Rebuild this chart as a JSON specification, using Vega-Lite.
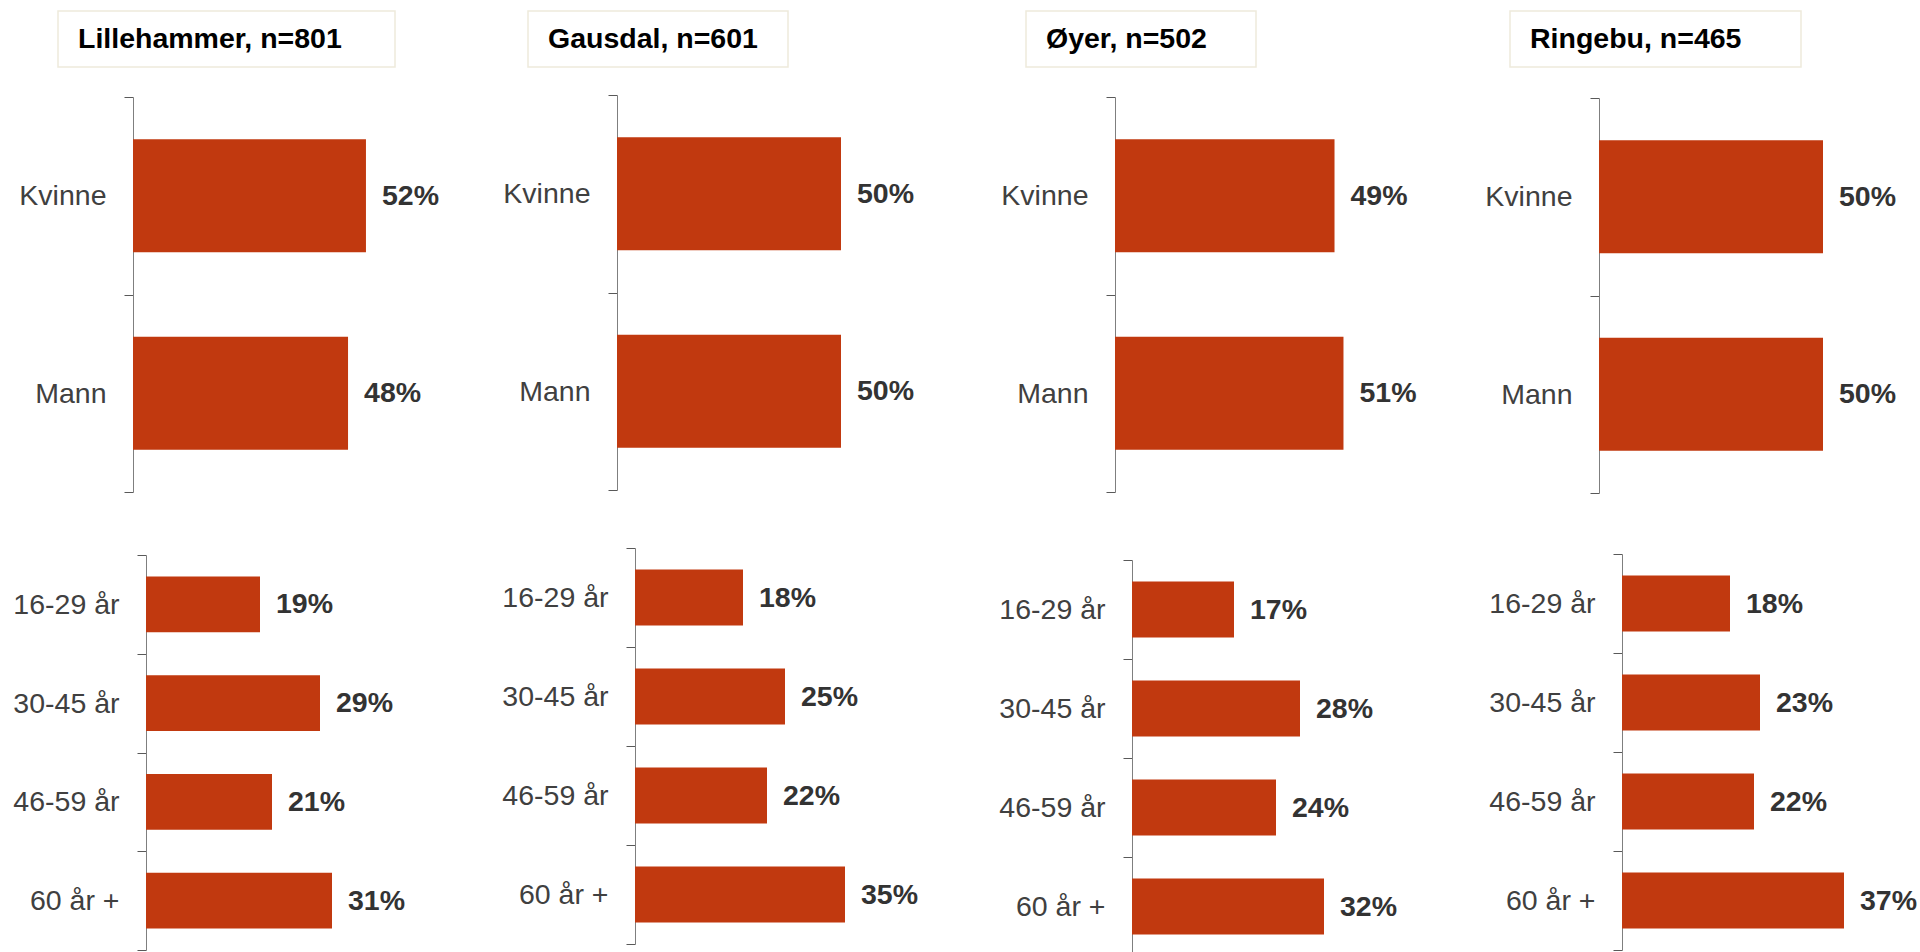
{
  "$schema": "https://vega.github.io/schema/vega-lite/v6.json",
  "padding": {"left": 12, "top": 10, "right": 0, "bottom": 0},
  "background": "white",
  "config": {
    "view": {"stroke": null},
    "font": "Liberation Sans",
    "axis": {
      "domainColor": "#7f7f7f",
      "tickColor": "#595959",
      "tickSize": 9,
      "labelPadding": 18,
      "labelFontSize": 28.5,
      "labelColor": "#404040",
      "labelFont": "Liberation Sans",
      "title": null,
      "grid": false,
      "tickBand": "extent",
      "labelLimit": 300
    },
    "bar": {"color": "#c1390f"},
    "text": {"font": "Liberation Sans"},
    "concat": {"spacing": 20}
  },
  "datasets": {
    "andeler": [
      {"kommune": "Lillehammer", "gruppe": "kjonn", "kategori": "Kvinne", "andel": 0.52},
      {"kommune": "Lillehammer", "gruppe": "kjonn", "kategori": "Mann", "andel": 0.48},
      {"kommune": "Lillehammer", "gruppe": "alder", "kategori": "16-29 år", "andel": 0.19},
      {"kommune": "Lillehammer", "gruppe": "alder", "kategori": "30-45 år", "andel": 0.29},
      {"kommune": "Lillehammer", "gruppe": "alder", "kategori": "46-59 år", "andel": 0.21},
      {"kommune": "Lillehammer", "gruppe": "alder", "kategori": "60 år +", "andel": 0.31},
      {"kommune": "Gausdal", "gruppe": "kjonn", "kategori": "Kvinne", "andel": 0.50},
      {"kommune": "Gausdal", "gruppe": "kjonn", "kategori": "Mann", "andel": 0.50},
      {"kommune": "Gausdal", "gruppe": "alder", "kategori": "16-29 år", "andel": 0.18},
      {"kommune": "Gausdal", "gruppe": "alder", "kategori": "30-45 år", "andel": 0.25},
      {"kommune": "Gausdal", "gruppe": "alder", "kategori": "46-59 år", "andel": 0.22},
      {"kommune": "Gausdal", "gruppe": "alder", "kategori": "60 år +", "andel": 0.35},
      {"kommune": "Øyer", "gruppe": "kjonn", "kategori": "Kvinne", "andel": 0.49},
      {"kommune": "Øyer", "gruppe": "kjonn", "kategori": "Mann", "andel": 0.51},
      {"kommune": "Øyer", "gruppe": "alder", "kategori": "16-29 år", "andel": 0.17},
      {"kommune": "Øyer", "gruppe": "alder", "kategori": "30-45 år", "andel": 0.28},
      {"kommune": "Øyer", "gruppe": "alder", "kategori": "46-59 år", "andel": 0.24},
      {"kommune": "Øyer", "gruppe": "alder", "kategori": "60 år +", "andel": 0.32},
      {"kommune": "Ringebu", "gruppe": "kjonn", "kategori": "Kvinne", "andel": 0.50},
      {"kommune": "Ringebu", "gruppe": "kjonn", "kategori": "Mann", "andel": 0.50},
      {"kommune": "Ringebu", "gruppe": "alder", "kategori": "16-29 år", "andel": 0.18},
      {"kommune": "Ringebu", "gruppe": "alder", "kategori": "30-45 år", "andel": 0.23},
      {"kommune": "Ringebu", "gruppe": "alder", "kategori": "46-59 år", "andel": 0.22},
      {"kommune": "Ringebu", "gruppe": "alder", "kategori": "60 år +", "andel": 0.37}
    ],
    "titler": [
      {"kommune": "Lillehammer", "tittel": "Lillehammer, n=801"},
      {"kommune": "Gausdal", "tittel": "Gausdal, n=601"},
      {"kommune": "Øyer", "tittel": "Øyer, n=502"},
      {"kommune": "Ringebu", "tittel": "Ringebu, n=465"}
    ]
  },
  "hconcat": [
    {
      "spacing": 15,
      "vconcat": [
        {
          "width": 337, "height": 56,
          "view": {"stroke": "#eeeadb", "strokeWidth": 1.5},
          "data": {"name": "titler"},
          "transform": [{"filter": "datum.kommune === 'Lillehammer'"}],
          "mark": {"type": "text", "align": "left", "baseline": "middle", "dx": 20, "fontSize": 28.5, "fontWeight": "bold", "color": "#000000"},
          "encoding": {
            "text": {"field": "tittel"},
            "x": {"datum": 0, "type": "quantitative", "scale": {"domain": [0, 1]}, "axis": null}
          }
        },
        {
          "spacing": 48,
          "vconcat": [
            {
              "width": 423, "height": 395,
              "data": {"name": "andeler"},
              "transform": [{"filter": "datum.kommune === 'Lillehammer' && datum.gruppe === 'kjonn'"}],
              "encoding": {
                "y": {"field": "kategori", "type": "nominal", "sort": null, "scale": {"paddingInner": 0, "paddingOuter": 0}, "axis": {"offset": -75}},
                "x": {"field": "andel", "type": "quantitative", "scale": {"domain": [-0.16741, 0.77679], "nice": false, "zero": false}, "axis": null}
              },
              "layer": [
                {"mark": {"type": "bar", "height": {"band": 0.572}}},
                {"mark": {"type": "text", "align": "left", "baseline": "middle", "dx": 16, "fontSize": 28.5, "fontWeight": "bold", "color": "#333333"}, "encoding": {"text": {"field": "andel", "type": "quantitative", "format": ".0%"}}}
              ]
            },
            {
              "width": 423, "height": 395,
              "data": {"name": "andeler"},
              "transform": [{"filter": "datum.kommune === 'Lillehammer' && datum.gruppe === 'alder'"}],
              "encoding": {
                "y": {"field": "kategori", "type": "nominal", "sort": null, "scale": {"paddingInner": 0, "paddingOuter": 0}, "axis": {"offset": -88}},
                "x": {"field": "andel", "type": "quantitative", "scale": {"domain": [-0.14667, 0.55833], "nice": false, "zero": false}, "axis": null}
              },
              "layer": [
                {"mark": {"type": "bar", "height": {"band": 0.567}}},
                {"mark": {"type": "text", "align": "left", "baseline": "middle", "dx": 16, "fontSize": 28.5, "fontWeight": "bold", "color": "#333333"}, "encoding": {"text": {"field": "andel", "type": "quantitative", "format": ".0%"}}}
              ]
            }
          ]
        }
      ]
    },
    {
      "spacing": 13,
      "vconcat": [
        {
          "width": 260, "height": 56,
          "view": {"stroke": "#eeeadb", "strokeWidth": 1.5},
          "data": {"name": "titler"},
          "transform": [{"filter": "datum.kommune === 'Gausdal'"}],
          "mark": {"type": "text", "align": "left", "baseline": "middle", "dx": 20, "fontSize": 28.5, "fontWeight": "bold", "color": "#000000"},
          "encoding": {
            "text": {"field": "tittel"},
            "x": {"datum": 0, "type": "quantitative", "scale": {"domain": [0, 1]}, "axis": null}
          }
        },
        {
          "spacing": 43,
          "vconcat": [
            {
              "width": 450, "height": 395,
              "data": {"name": "andeler"},
              "transform": [{"filter": "datum.kommune === 'Gausdal' && datum.gruppe === 'kjonn'"}],
              "encoding": {
                "y": {"field": "kategori", "type": "nominal", "sort": null, "scale": {"paddingInner": 0, "paddingOuter": 0}, "axis": {"offset": -89}},
                "x": {"field": "andel", "type": "quantitative", "scale": {"domain": [-0.19866, 0.80580], "nice": false, "zero": false}, "axis": null}
              },
              "layer": [
                {"mark": {"type": "bar", "height": {"band": 0.572}}},
                {"mark": {"type": "text", "align": "left", "baseline": "middle", "dx": 16, "fontSize": 28.5, "fontWeight": "bold", "color": "#333333"}, "encoding": {"text": {"field": "andel", "type": "quantitative", "format": ".0%"}}}
              ]
            },
            {
              "width": 450, "height": 396,
              "data": {"name": "andeler"},
              "transform": [{"filter": "datum.kommune === 'Gausdal' && datum.gruppe === 'alder'"}],
              "encoding": {
                "y": {"field": "kategori", "type": "nominal", "sort": null, "scale": {"paddingInner": 0, "paddingOuter": 0}, "axis": {"offset": -107}},
                "x": {"field": "andel", "type": "quantitative", "scale": {"domain": [-0.17833, 0.57167], "nice": false, "zero": false}, "axis": null}
              },
              "layer": [
                {"mark": {"type": "bar", "height": {"band": 0.567}}},
                {"mark": {"type": "text", "align": "left", "baseline": "middle", "dx": 16, "fontSize": 28.5, "fontWeight": "bold", "color": "#333333"}, "encoding": {"text": {"field": "andel", "type": "quantitative", "format": ".0%"}}}
              ]
            }
          ]
        }
      ]
    },
    {
      "spacing": 15,
      "vconcat": [
        {
          "width": 230, "height": 56,
          "view": {"stroke": "#eeeadb", "strokeWidth": 1.5},
          "data": {"name": "titler"},
          "transform": [{"filter": "datum.kommune === 'Øyer'"}],
          "mark": {"type": "text", "align": "left", "baseline": "middle", "dx": 20, "fontSize": 28.5, "fontWeight": "bold", "color": "#000000"},
          "encoding": {
            "text": {"field": "tittel"},
            "x": {"datum": 0, "type": "quantitative", "scale": {"domain": [0, 1]}, "axis": null}
          }
        },
        {
          "spacing": 53,
          "vconcat": [
            {
              "width": 438, "height": 395,
              "data": {"name": "andeler"},
              "transform": [{"filter": "datum.kommune === 'Øyer' && datum.gruppe === 'kjonn'"}],
              "encoding": {
                "y": {"field": "kategori", "type": "nominal", "sort": null, "scale": {"paddingInner": 0, "paddingOuter": 0}, "axis": {"offset": -89}},
                "x": {"field": "andel", "type": "quantitative", "scale": {"domain": [-0.19866, 0.77902], "nice": false, "zero": false}, "axis": null}
              },
              "layer": [
                {"mark": {"type": "bar", "height": {"band": 0.572}}},
                {"mark": {"type": "text", "align": "left", "baseline": "middle", "dx": 16, "fontSize": 28.5, "fontWeight": "bold", "color": "#333333"}, "encoding": {"text": {"field": "andel", "type": "quantitative", "format": ".0%"}}}
              ]
            },
            {
              "width": 438, "height": 396,
              "data": {"name": "andeler"},
              "transform": [{"filter": "datum.kommune === 'Øyer' && datum.gruppe === 'alder'"}],
              "encoding": {
                "y": {"field": "kategori", "type": "nominal", "sort": null, "scale": {"paddingInner": 0, "paddingOuter": 0}, "axis": {"offset": -106}},
                "x": {"field": "andel", "type": "quantitative", "scale": {"domain": [-0.17667, 0.55333], "nice": false, "zero": false}, "axis": null}
              },
              "layer": [
                {"mark": {"type": "bar", "height": {"band": 0.567}}},
                {"mark": {"type": "text", "align": "left", "baseline": "middle", "dx": 16, "fontSize": 28.5, "fontWeight": "bold", "color": "#333333"}, "encoding": {"text": {"field": "andel", "type": "quantitative", "format": ".0%"}}}
              ]
            }
          ]
        }
      ]
    },
    {
      "spacing": 16,
      "vconcat": [
        {
          "width": 291, "height": 56,
          "view": {"stroke": "#eeeadb", "strokeWidth": 1.5},
          "data": {"name": "titler"},
          "transform": [{"filter": "datum.kommune === 'Ringebu'"}],
          "mark": {"type": "text", "align": "left", "baseline": "middle", "dx": 20, "fontSize": 28.5, "fontWeight": "bold", "color": "#000000"},
          "encoding": {
            "text": {"field": "tittel"},
            "x": {"datum": 0, "type": "quantitative", "scale": {"domain": [0, 1]}, "axis": null}
          }
        },
        {
          "spacing": 46,
          "vconcat": [
            {
              "width": 400, "height": 395,
              "data": {"name": "andeler"},
              "transform": [{"filter": "datum.kommune === 'Ringebu' && datum.gruppe === 'kjonn'"}],
              "encoding": {
                "y": {"field": "kategori", "type": "nominal", "sort": null, "scale": {"paddingInner": 0, "paddingOuter": 0}, "axis": {"offset": -89}},
                "x": {"field": "andel", "type": "quantitative", "scale": {"domain": [-0.19866, 0.69420], "nice": false, "zero": false}, "axis": null}
              },
              "layer": [
                {"mark": {"type": "bar", "height": {"band": 0.572}}},
                {"mark": {"type": "text", "align": "left", "baseline": "middle", "dx": 16, "fontSize": 28.5, "fontWeight": "bold", "color": "#333333"}, "encoding": {"text": {"field": "andel", "type": "quantitative", "format": ".0%"}}}
              ]
            },
            {
              "width": 400, "height": 396,
              "data": {"name": "andeler"},
              "transform": [{"filter": "datum.kommune === 'Ringebu' && datum.gruppe === 'alder'"}],
              "encoding": {
                "y": {"field": "kategori", "type": "nominal", "sort": null, "scale": {"paddingInner": 0, "paddingOuter": 0}, "axis": {"offset": -112}},
                "x": {"field": "andel", "type": "quantitative", "scale": {"domain": [-0.18667, 0.480], "nice": false, "zero": false}, "axis": null}
              },
              "layer": [
                {"mark": {"type": "bar", "height": {"band": 0.567}}},
                {"mark": {"type": "text", "align": "left", "baseline": "middle", "dx": 16, "fontSize": 28.5, "fontWeight": "bold", "color": "#333333"}, "encoding": {"text": {"field": "andel", "type": "quantitative", "format": ".0%"}}}
              ]
            }
          ]
        }
      ]
    }
  ]
}
